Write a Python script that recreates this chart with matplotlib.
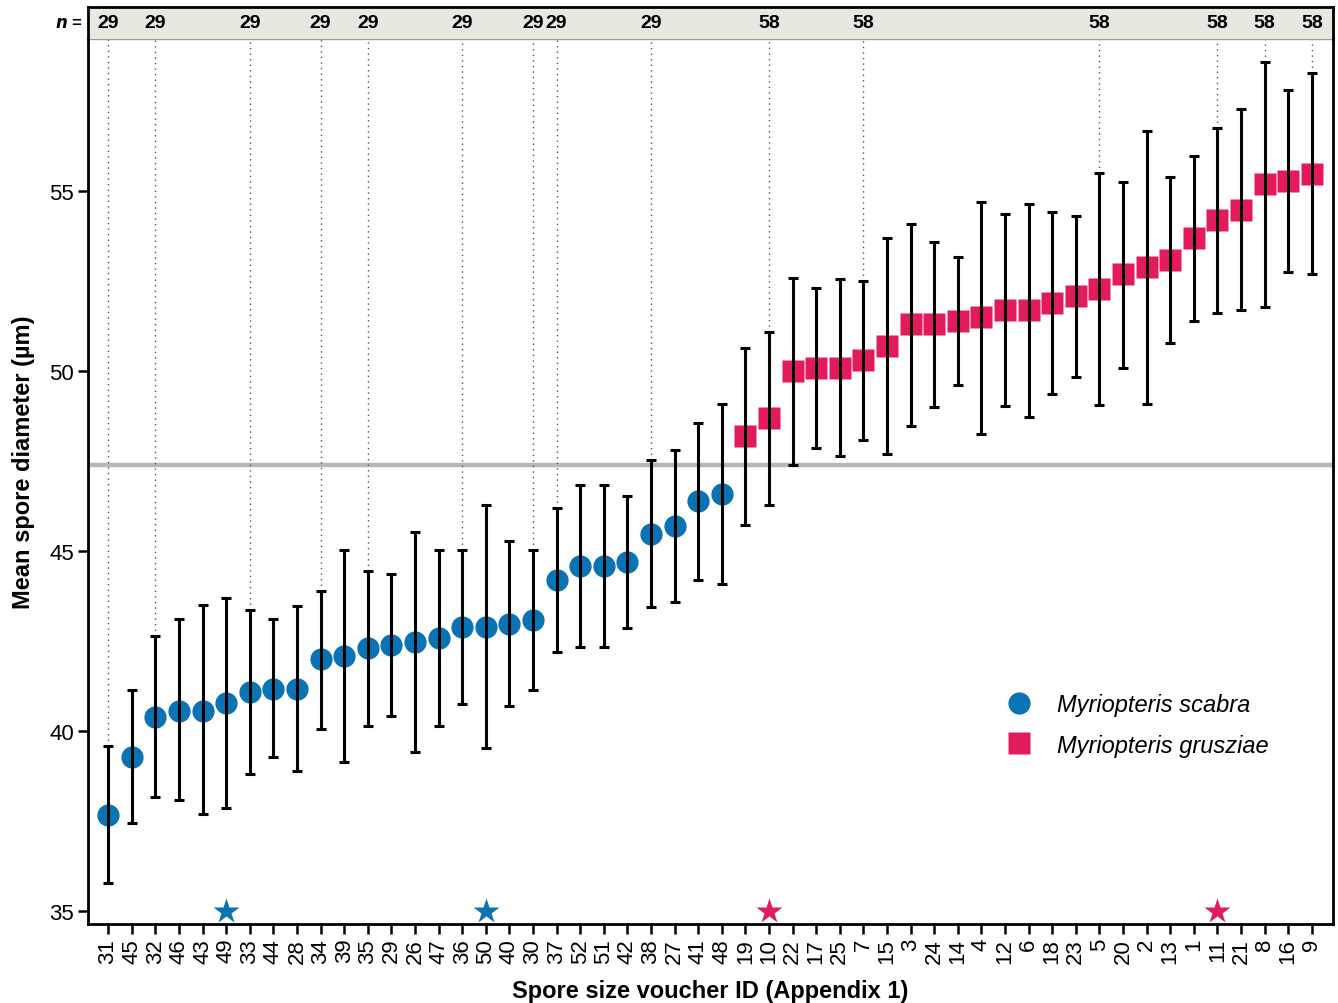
import numpy as np
import matplotlib.pyplot as plt
from matplotlib.lines import Line2D

# voucher IDs, in plotted order
scabra_ids = ["31", "45", "32", "46", "43", "49", "33", "44", "28", "34", "39", "35", "29", "26",
              "47", "36", "50", "40", "30", "37", "52", "51", "42", "38", "27", "41", "48"]
grus_ids = ["19", "10", "22", "17", "25", "7", "15", "3", "24", "14", "4", "12", "6", "18",
            "23", "5", "20", "2", "13", "1", "11", "21", "8", "16", "9"]

# mean spore diameter and error bar ends (um)
scabra_mean = [37.67, 39.28, 40.39, 40.56, 40.56, 40.78, 41.08, 41.17, 41.17, 41.99, 42.08, 42.30,
               42.39, 42.48, 42.58, 42.88, 42.88, 42.97, 43.08, 44.18, 44.57, 44.57, 44.68, 45.48,
               45.69, 46.39, 46.58]
scabra_hi = [39.58, 41.14, 42.64, 43.11, 43.50, 43.69, 43.36, 43.11, 43.47, 43.89, 45.03, 44.44,
             44.35, 45.54, 45.03, 45.03, 46.27, 45.27, 45.04, 46.19, 46.83, 46.83, 46.52, 47.54,
             47.80, 48.56, 49.07]
scabra_lo = [35.78, 37.44, 38.17, 38.08, 37.69, 37.86, 38.80, 39.28, 38.89, 40.06, 39.15, 40.13,
             40.42, 39.43, 40.14, 40.76, 39.52, 40.70, 41.13, 42.19, 42.34, 42.33, 42.87, 43.44,
             43.58, 44.20, 44.09]

grus_mean = [48.19, 48.69, 49.99, 50.08, 50.08, 50.29, 50.69, 51.29, 51.29, 51.38, 51.49, 51.69,
             51.69, 51.88, 52.08, 52.28, 52.68, 52.88, 53.07, 53.69, 54.18, 54.48, 55.18, 55.28,
             55.47]
grus_hi = [50.63, 51.09, 52.58, 52.31, 52.54, 52.49, 53.69, 54.08, 53.58, 53.16, 54.70, 54.36,
           54.63, 54.41, 54.31, 55.49, 55.26, 56.67, 55.40, 55.96, 56.74, 57.27, 58.57, 57.81,
           58.27]
grus_lo = [45.73, 46.29, 47.39, 47.87, 47.65, 48.08, 47.69, 48.48, 48.99, 49.61, 48.26, 49.02,
           48.73, 49.36, 49.84, 49.06, 50.08, 49.09, 50.77, 51.38, 51.60, 51.68, 51.77, 52.74,
           52.69]

# sample sizes shown in the top strip
n_ids = ["31", "32", "33", "34", "35", "36", "30", "37", "38", "10", "7", "5", "11", "8", "9"]
n_vals = [29, 29, 29, 29, 29, 29, 29, 29, 29, 58, 58, 58, 58, 58, 58]

# starred vouchers
star_ids = ["49", "50", "10", "11"]

threshold = 47.4

BLUE = "#0a73b4"
RED = "#e31b5b"

plt.rcParams['font.family'] = ['Liberation Sans', 'DejaVu Sans']
narrow = ['Liberation Sans Narrow', 'Liberation Sans', 'DejaVu Sans']

ids = scabra_ids + grus_ids
x = np.arange(len(ids))
pos = {k: i for i, k in enumerate(ids)}
xs = x[:len(scabra_ids)]
xg = x[len(scabra_ids):]

fig = plt.figure(figsize=(13.38, 10.04), dpi=100)
ax = fig.add_axes([0.0658, 0.0787, 0.9305, 0.8815])
strip = fig.add_axes([0.0658, 0.9602, 0.9305, 0.0319], sharex=ax)

ax.set_xlim(-0.85, 51.9)
ax.set_ylim(34.64, 59.22)

ax.axhline(threshold, color="#b7b9b0", lw=3.2, zorder=1)

# dotted guide lines from the strip to the top of the error bar
hi_all = scabra_hi + grus_hi
for k in n_ids:
    i = pos[k]
    ax.plot([i, i], [hi_all[i], 59.22], ls=(0, (1, 3)), color="#555555", lw=1.0, zorder=1)

ax.plot(xs, scabra_mean, "o", color=BLUE, ms=16, mec="none", zorder=2)
ax.plot(xg, grus_mean, "s", color=RED, ms=15.5, mec="none", zorder=2)

mean_all = np.array(scabra_mean + grus_mean)
lo_all = np.array(scabra_lo + grus_lo)
ax.errorbar(x, mean_all, yerr=[mean_all - lo_all, np.array(hi_all) - mean_all], fmt="none",
            ecolor="black", elinewidth=2.2, capsize=3.6, capthick=2.2, zorder=3)

for k in star_ids:
    c = BLUE if k in scabra_ids else RED
    ax.plot(pos[k], 35.0, "*", color=c, ms=19, mec="none", zorder=4)

ax.set_xticks(x)
ax.set_xticklabels(ids, rotation=90, fontsize=16)
ax.set_yticks([35, 40, 45, 50, 55])
ax.tick_params(axis="both", length=7, width=1.8, labelsize=16, color="black")
ax.tick_params(axis="x", pad=3)
ax.tick_params(axis="y", pad=3)
for s in ["left", "bottom", "right"]:
    ax.spines[s].set_linewidth(2.0)
ax.spines["top"].set_color("#999999")
ax.spines["top"].set_linewidth(1.0)

ax.set_ylabel("Mean spore diameter (µm)", fontsize=17, fontweight="bold", family=narrow)
ax.yaxis.set_label_coords(-0.043, 0.523)
ax.set_xlabel("Spore size voucher ID (Appendix 1)", fontsize=17, fontweight="bold", family=narrow,
              labelpad=12)

# top strip with n values
strip.set_facecolor("#e5e9e0")
strip.set_ylim(0, 1)
strip.set_yticks([])
strip.tick_params(axis="x", bottom=False, labelbottom=False)
for s in ["left", "top", "right"]:
    strip.spines[s].set_linewidth(2.0)
strip.spines["bottom"].set_visible(False)
for k, n in zip(n_ids, n_vals):
    strip.text(pos[k], 0.5, str(n), ha="center", va="center", fontsize=14, fontweight="bold",
               family=narrow)
strip.text(-0.004, 0.5, r"$\mathbfit{n}$ =", transform=strip.transAxes, ha="right", va="center",
           fontsize=12, fontweight="bold")

handles = [Line2D([], [], marker="o", ls="none", color=BLUE, ms=16, mec="none"),
           Line2D([], [], marker="s", ls="none", color=RED, ms=15.5, mec="none")]
leg = ax.legend(handles, ["Myriopteris scabra", "Myriopteris grusziae"], loc="upper left",
                bbox_to_anchor=(0.712, 0.285), frameon=False, handletextpad=0.6, labelspacing=0.75,
                prop={"style": "italic", "size": 17})

fig.savefig("out.png", dpi=100)
